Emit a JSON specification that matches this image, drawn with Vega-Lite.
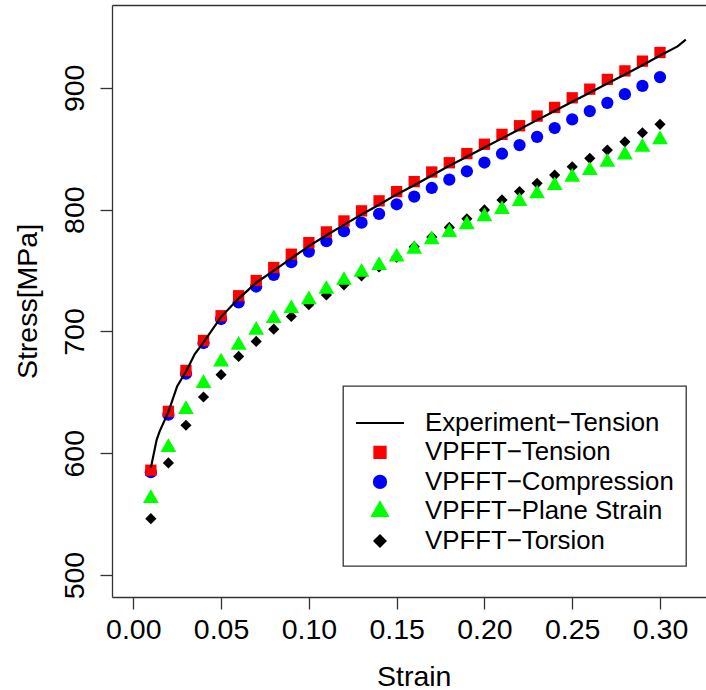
{
  "$schema": "https://vega.github.io/schema/vega-lite/v6.json",
  "width": 594,
  "height": 592,
  "autosize": {"type": "none"},
  "padding": {"left": 112, "top": 5, "right": 0, "bottom": 93},
  "background": "white",
  "config": {
    "view": {"stroke": null},
    "font": "Liberation Sans",
    "axis": {
      "domainColor": "#333333", "domainWidth": 1.3,
      "tickColor": "#333333", "tickWidth": 1.3, "tickSize": 12,
      "labelFont": "Liberation Sans", "labelFontSize": 28.5, "labelColor": "black",
      "titleFont": "Liberation Sans", "titleFontSize": 28.5, "titleFontWeight": "normal", "titleColor": "black",
      "grid": false, "labelFlush": false, "labelOverlap": false
    },
    "legend": {
      "orient": "none", "legendX": 231, "legendY": 381,
      "padding": 12, "strokeColor": "#333333",
      "labelFont": "Liberation Sans", "labelFontSize": 25.8, "labelColor": "black",
      "labelOffset": 20, "rowPadding": 2.5, "symbolOpacity": 1, "labelLimit": 400
    }
  },
  "datasets": {
    "sim": [
      {"series": "VPFFT−Torsion", "strain": 0.01, "stress": 546.3},
      {"series": "VPFFT−Torsion", "strain": 0.02, "stress": 592.1},
      {"series": "VPFFT−Torsion", "strain": 0.03, "stress": 623.0},
      {"series": "VPFFT−Torsion", "strain": 0.04, "stress": 646.2},
      {"series": "VPFFT−Torsion", "strain": 0.05, "stress": 664.5},
      {"series": "VPFFT−Torsion", "strain": 0.06, "stress": 679.5},
      {"series": "VPFFT−Torsion", "strain": 0.07, "stress": 691.8},
      {"series": "VPFFT−Torsion", "strain": 0.08, "stress": 701.9},
      {"series": "VPFFT−Torsion", "strain": 0.09, "stress": 712.3},
      {"series": "VPFFT−Torsion", "strain": 0.10, "stress": 721.9},
      {"series": "VPFFT−Torsion", "strain": 0.11, "stress": 730.0},
      {"series": "VPFFT−Torsion", "strain": 0.12, "stress": 738.3},
      {"series": "VPFFT−Torsion", "strain": 0.13, "stress": 745.7},
      {"series": "VPFFT−Torsion", "strain": 0.14, "stress": 753.0},
      {"series": "VPFFT−Torsion", "strain": 0.15, "stress": 761.0},
      {"series": "VPFFT−Torsion", "strain": 0.16, "stress": 769.5},
      {"series": "VPFFT−Torsion", "strain": 0.17, "stress": 777.5},
      {"series": "VPFFT−Torsion", "strain": 0.18, "stress": 785.4},
      {"series": "VPFFT−Torsion", "strain": 0.19, "stress": 792.5},
      {"series": "VPFFT−Torsion", "strain": 0.20, "stress": 799.8},
      {"series": "VPFFT−Torsion", "strain": 0.21, "stress": 808.0},
      {"series": "VPFFT−Torsion", "strain": 0.22, "stress": 814.8},
      {"series": "VPFFT−Torsion", "strain": 0.23, "stress": 821.6},
      {"series": "VPFFT−Torsion", "strain": 0.24, "stress": 828.4},
      {"series": "VPFFT−Torsion", "strain": 0.25, "stress": 835.2},
      {"series": "VPFFT−Torsion", "strain": 0.26, "stress": 842.1},
      {"series": "VPFFT−Torsion", "strain": 0.27, "stress": 848.9},
      {"series": "VPFFT−Torsion", "strain": 0.28, "stress": 855.7},
      {"series": "VPFFT−Torsion", "strain": 0.29, "stress": 863.1},
      {"series": "VPFFT−Torsion", "strain": 0.30, "stress": 870.0},
      {"series": "VPFFT−Plane Strain", "strain": 0.01, "stress": 563.0},
      {"series": "VPFFT−Plane Strain", "strain": 0.02, "stress": 604.8},
      {"series": "VPFFT−Plane Strain", "strain": 0.03, "stress": 636.0},
      {"series": "VPFFT−Plane Strain", "strain": 0.04, "stress": 657.3},
      {"series": "VPFFT−Plane Strain", "strain": 0.05, "stress": 675.0},
      {"series": "VPFFT−Plane Strain", "strain": 0.06, "stress": 688.7},
      {"series": "VPFFT−Plane Strain", "strain": 0.07, "stress": 701.0},
      {"series": "VPFFT−Plane Strain", "strain": 0.08, "stress": 710.6},
      {"series": "VPFFT−Plane Strain", "strain": 0.09, "stress": 718.8},
      {"series": "VPFFT−Plane Strain", "strain": 0.10, "stress": 726.1},
      {"series": "VPFFT−Plane Strain", "strain": 0.11, "stress": 734.6},
      {"series": "VPFFT−Plane Strain", "strain": 0.12, "stress": 742.0},
      {"series": "VPFFT−Plane Strain", "strain": 0.13, "stress": 748.7},
      {"series": "VPFFT−Plane Strain", "strain": 0.14, "stress": 754.2},
      {"series": "VPFFT−Plane Strain", "strain": 0.15, "stress": 761.1},
      {"series": "VPFFT−Plane Strain", "strain": 0.16, "stress": 767.6},
      {"series": "VPFFT−Plane Strain", "strain": 0.17, "stress": 775.4},
      {"series": "VPFFT−Plane Strain", "strain": 0.18, "stress": 781.3},
      {"series": "VPFFT−Plane Strain", "strain": 0.19, "stress": 787.6},
      {"series": "VPFFT−Plane Strain", "strain": 0.20, "stress": 794.2},
      {"series": "VPFFT−Plane Strain", "strain": 0.21, "stress": 800.2},
      {"series": "VPFFT−Plane Strain", "strain": 0.22, "stress": 806.7},
      {"series": "VPFFT−Plane Strain", "strain": 0.23, "stress": 813.0},
      {"series": "VPFFT−Plane Strain", "strain": 0.24, "stress": 819.8},
      {"series": "VPFFT−Plane Strain", "strain": 0.25, "stress": 826.6},
      {"series": "VPFFT−Plane Strain", "strain": 0.26, "stress": 832.1},
      {"series": "VPFFT−Plane Strain", "strain": 0.27, "stress": 838.9},
      {"series": "VPFFT−Plane Strain", "strain": 0.28, "stress": 845.0},
      {"series": "VPFFT−Plane Strain", "strain": 0.29, "stress": 851.3},
      {"series": "VPFFT−Plane Strain", "strain": 0.30, "stress": 857.5},
      {"series": "VPFFT−Compression", "strain": 0.01, "stress": 584.5},
      {"series": "VPFFT−Compression", "strain": 0.02, "stress": 631.7},
      {"series": "VPFFT−Compression", "strain": 0.03, "stress": 665.3},
      {"series": "VPFFT−Compression", "strain": 0.04, "stress": 690.5},
      {"series": "VPFFT−Compression", "strain": 0.05, "stress": 710.2},
      {"series": "VPFFT−Compression", "strain": 0.06, "stress": 723.8},
      {"series": "VPFFT−Compression", "strain": 0.07, "stress": 736.9},
      {"series": "VPFFT−Compression", "strain": 0.08, "stress": 746.5},
      {"series": "VPFFT−Compression", "strain": 0.09, "stress": 756.9},
      {"series": "VPFFT−Compression", "strain": 0.10, "stress": 765.6},
      {"series": "VPFFT−Compression", "strain": 0.11, "stress": 774.1},
      {"series": "VPFFT−Compression", "strain": 0.12, "stress": 782.3},
      {"series": "VPFFT−Compression", "strain": 0.13, "stress": 789.3},
      {"series": "VPFFT−Compression", "strain": 0.14, "stress": 796.5},
      {"series": "VPFFT−Compression", "strain": 0.15, "stress": 804.4},
      {"series": "VPFFT−Compression", "strain": 0.16, "stress": 810.7},
      {"series": "VPFFT−Compression", "strain": 0.17, "stress": 817.8},
      {"series": "VPFFT−Compression", "strain": 0.18, "stress": 824.6},
      {"series": "VPFFT−Compression", "strain": 0.19, "stress": 831.5},
      {"series": "VPFFT−Compression", "strain": 0.20, "stress": 838.7},
      {"series": "VPFFT−Compression", "strain": 0.21, "stress": 845.9},
      {"series": "VPFFT−Compression", "strain": 0.22, "stress": 853.0},
      {"series": "VPFFT−Compression", "strain": 0.23, "stress": 859.8},
      {"series": "VPFFT−Compression", "strain": 0.24, "stress": 867.0},
      {"series": "VPFFT−Compression", "strain": 0.25, "stress": 874.1},
      {"series": "VPFFT−Compression", "strain": 0.26, "stress": 880.9},
      {"series": "VPFFT−Compression", "strain": 0.27, "stress": 887.7},
      {"series": "VPFFT−Compression", "strain": 0.28, "stress": 894.8},
      {"series": "VPFFT−Compression", "strain": 0.29, "stress": 901.6},
      {"series": "VPFFT−Compression", "strain": 0.30, "stress": 908.8},
      {"series": "VPFFT−Tension", "strain": 0.01, "stress": 586.1},
      {"series": "VPFFT−Tension", "strain": 0.02, "stress": 634.4},
      {"series": "VPFFT−Tension", "strain": 0.03, "stress": 668.0},
      {"series": "VPFFT−Tension", "strain": 0.04, "stress": 692.6},
      {"series": "VPFFT−Tension", "strain": 0.05, "stress": 712.9},
      {"series": "VPFFT−Tension", "strain": 0.06, "stress": 729.3},
      {"series": "VPFFT−Tension", "strain": 0.07, "stress": 741.8},
      {"series": "VPFFT−Tension", "strain": 0.08, "stress": 752.5},
      {"series": "VPFFT−Tension", "strain": 0.09, "stress": 763.4},
      {"series": "VPFFT−Tension", "strain": 0.10, "stress": 772.9},
      {"series": "VPFFT−Tension", "strain": 0.11, "stress": 781.7},
      {"series": "VPFFT−Tension", "strain": 0.12, "stress": 790.7},
      {"series": "VPFFT−Tension", "strain": 0.13, "stress": 799.0},
      {"series": "VPFFT−Tension", "strain": 0.14, "stress": 807.2},
      {"series": "VPFFT−Tension", "strain": 0.15, "stress": 814.8},
      {"series": "VPFFT−Tension", "strain": 0.16, "stress": 823.0},
      {"series": "VPFFT−Tension", "strain": 0.17, "stress": 830.9},
      {"series": "VPFFT−Tension", "strain": 0.18, "stress": 838.5},
      {"series": "VPFFT−Tension", "strain": 0.19, "stress": 846.0},
      {"series": "VPFFT−Tension", "strain": 0.20, "stress": 853.7},
      {"series": "VPFFT−Tension", "strain": 0.21, "stress": 861.8},
      {"series": "VPFFT−Tension", "strain": 0.22, "stress": 868.9},
      {"series": "VPFFT−Tension", "strain": 0.23, "stress": 876.8},
      {"series": "VPFFT−Tension", "strain": 0.24, "stress": 883.9},
      {"series": "VPFFT−Tension", "strain": 0.25, "stress": 891.8},
      {"series": "VPFFT−Tension", "strain": 0.26, "stress": 898.9},
      {"series": "VPFFT−Tension", "strain": 0.27, "stress": 906.9},
      {"series": "VPFFT−Tension", "strain": 0.28, "stress": 913.9},
      {"series": "VPFFT−Tension", "strain": 0.29, "stress": 921.9},
      {"series": "VPFFT−Tension", "strain": 0.30, "stress": 929.0}
    ],
    "exp": [
      {"series": "Experiment−Tension", "strain": 0.010, "stress": 588.0},
      {"series": "Experiment−Tension", "strain": 0.0133, "stress": 611.0},
      {"series": "Experiment−Tension", "strain": 0.015, "stress": 618.0},
      {"series": "Experiment−Tension", "strain": 0.020, "stress": 634.0},
      {"series": "Experiment−Tension", "strain": 0.025, "stress": 655.0},
      {"series": "Experiment−Tension", "strain": 0.030, "stress": 667.0},
      {"series": "Experiment−Tension", "strain": 0.035, "stress": 681.5},
      {"series": "Experiment−Tension", "strain": 0.040, "stress": 691.0},
      {"series": "Experiment−Tension", "strain": 0.050, "stress": 712.0},
      {"series": "Experiment−Tension", "strain": 0.060, "stress": 727.0},
      {"series": "Experiment−Tension", "strain": 0.070, "stress": 740.0},
      {"series": "Experiment−Tension", "strain": 0.080, "stress": 750.0},
      {"series": "Experiment−Tension", "strain": 0.090, "stress": 760.0},
      {"series": "Experiment−Tension", "strain": 0.100, "stress": 770.0},
      {"series": "Experiment−Tension", "strain": 0.110, "stress": 779.0},
      {"series": "Experiment−Tension", "strain": 0.120, "stress": 787.5},
      {"series": "Experiment−Tension", "strain": 0.130, "stress": 796.0},
      {"series": "Experiment−Tension", "strain": 0.140, "stress": 804.0},
      {"series": "Experiment−Tension", "strain": 0.150, "stress": 812.5},
      {"series": "Experiment−Tension", "strain": 0.160, "stress": 820.0},
      {"series": "Experiment−Tension", "strain": 0.170, "stress": 828.0},
      {"series": "Experiment−Tension", "strain": 0.180, "stress": 836.0},
      {"series": "Experiment−Tension", "strain": 0.190, "stress": 843.5},
      {"series": "Experiment−Tension", "strain": 0.200, "stress": 851.0},
      {"series": "Experiment−Tension", "strain": 0.210, "stress": 858.5},
      {"series": "Experiment−Tension", "strain": 0.220, "stress": 866.0},
      {"series": "Experiment−Tension", "strain": 0.230, "stress": 873.5},
      {"series": "Experiment−Tension", "strain": 0.240, "stress": 881.0},
      {"series": "Experiment−Tension", "strain": 0.250, "stress": 888.5},
      {"series": "Experiment−Tension", "strain": 0.260, "stress": 896.0},
      {"series": "Experiment−Tension", "strain": 0.270, "stress": 903.5},
      {"series": "Experiment−Tension", "strain": 0.280, "stress": 911.0},
      {"series": "Experiment−Tension", "strain": 0.290, "stress": 918.5},
      {"series": "Experiment−Tension", "strain": 0.300, "stress": 926.5},
      {"series": "Experiment−Tension", "strain": 0.310, "stress": 934.0},
      {"series": "Experiment−Tension", "strain": 0.3147, "stress": 939.5}
    ]
  },
  "layer": [
    {
      "data": {"name": "sim"},
      "mark": {"type": "point", "filled": true, "opacity": 1},
      "encoding": {
        "x": {
          "field": "strain", "type": "quantitative",
          "scale": {"domain": [-0.01213, 0.3262], "nice": false, "zero": false},
          "axis": {
            "orient": "bottom", "values": [0, 0.05, 0.1, 0.15, 0.2, 0.25, 0.3], "format": ".2f",
            "labelBaseline": "alphabetic", "labelPadding": 29.3,
            "title": "Strain", "titleX": 301.7, "titleY": 88, "titleAlign": "center", "titleBaseline": "alphabetic"
          }
        },
        "y": {
          "field": "stress", "type": "quantitative",
          "scale": {"domain": [482, 968], "nice": false, "zero": false},
          "axis": {
            "orient": "left", "values": [500, 600, 700, 800, 900], "format": "d",
            "labelAngle": 270, "labelAlign": "center", "labelBaseline": "alphabetic", "labelPadding": 16.7,
            "title": "Stress[MPa]", "titleAngle": 270, "titleX": -75.3, "titleY": 296, "titleAlign": "center", "titleBaseline": "alphabetic"
          }
        },
        "color": {
          "field": "series", "type": "nominal",
          "scale": {
            "domain": ["Experiment−Tension", "VPFFT−Tension", "VPFFT−Compression", "VPFFT−Plane Strain", "VPFFT−Torsion"],
            "range": ["#000000", "#ff0000", "#0000ff", "#00ff00", "#000000"]
          },
          "legend": {
            "title": null,
            "encode": {
              "symbols": {
                "update": {
                  "stroke": {"signal": "datum.value === 'Experiment−Tension' ? '#000000' : null"},
                  "strokeWidth": {"value": 2}
                }
              },
              "legend": {"update": {"strokeWidth": {"value": 1.3}}}
            }
          }
        },
        "shape": {
          "field": "series", "type": "nominal",
          "scale": {
            "domain": ["Experiment−Tension", "VPFFT−Tension", "VPFFT−Compression", "VPFFT−Plane Strain", "VPFFT−Torsion"],
            "range": ["stroke", "square", "circle", "M0,-1.1547L1,0.5774L-1,0.5774Z", "diamond"]
          },
          "legend": {"title": null}
        },
        "size": {
          "field": "series", "type": "nominal",
          "scale": {
            "type": "ordinal",
            "domain": ["Experiment−Tension", "VPFFT−Tension", "VPFFT−Compression", "VPFFT−Plane Strain", "VPFFT−Torsion"],
            "range": [2304, 128, 150, 250, 125]
          },
          "legend": {"title": null}
        }
      }
    },
    {
      "data": {"name": "exp"},
      "mark": {"type": "line", "strokeWidth": 2.2},
      "encoding": {
        "x": {
          "field": "strain", "type": "quantitative",
          "axis": {"orient": "top", "labels": false, "ticks": false, "title": null, "domain": true}
        },
        "y": {
          "field": "stress", "type": "quantitative",
          "axis": {
            "orient": "left", "values": [500, 600, 700, 800, 900], "format": "d",
            "labelAngle": 270, "labelAlign": "center", "labelBaseline": "alphabetic", "labelPadding": 16.7,
            "title": "Stress[MPa]", "titleAngle": 270, "titleX": -75.3, "titleY": 296, "titleAlign": "center", "titleBaseline": "alphabetic"
          }
        },
        "color": {
          "field": "series", "type": "nominal",
          "legend": {"title": null}
        }
      }
    }
  ]
}
